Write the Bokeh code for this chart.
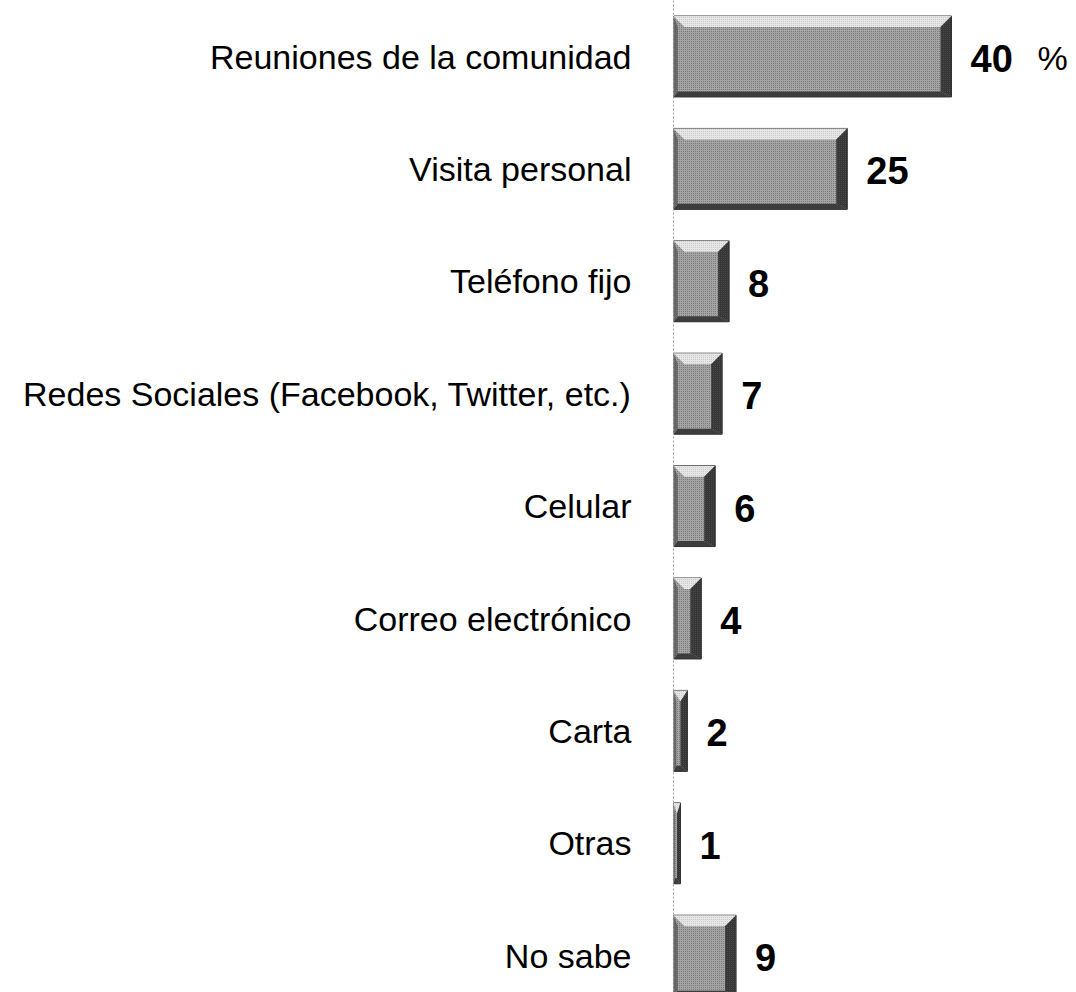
from bokeh.plotting import figure
from bokeh.models import Range1d, FixedTicker, ColumnDataSource
from bokeh.core.properties import value
from bokeh.embed import file_html
from bokeh.resources import INLINE

categories = ["Reuniones de la comunidad", "Visita personal", "Teléfono fijo",
              "Redes Sociales (Facebook, Twitter, etc.)", "Celular",
              "Correo electrónico", "Carta", "Otras", "No sabe"]
values = [40, 25, 8, 7, 6, 4, 2, 1, 9]
value_labels = ["40", "25", "8", "7", "6", "4", "2", "1", "9"]
unit_suffix = "%"

W, H = 1076, 992
LEFT = 673
PX_X = 6.95          # pixels per percent unit
PX_Y = 112.4         # pixels per row
x_end = (W - LEFT) / PX_X
y_top = -56 / PX_Y
y_bot = y_top + H / PX_Y

p = figure(width=W, height=H, output_backend="svg", toolbar_location=None,
           x_range=Range1d(0, x_end), y_range=Range1d(start=y_bot, end=y_top),
           min_border_left=LEFT, min_border_right=0, min_border_top=0, min_border_bottom=0)
p.outline_line_color = None
p.grid.visible = False
p.xaxis.visible = False
p.background_fill_color = "white"
p.border_fill_color = "white"

ys = list(range(len(categories)))
yax = p.yaxis[0]
yax.ticker = FixedTicker(ticks=ys)
yax.major_label_overrides = {i: c for i, c in enumerate(categories)}
yax.major_label_text_font = "Liberation Sans"
yax.major_label_text_font_size = "34px"
yax.major_label_text_color = "black"
yax.major_tick_line_color = None
yax.minor_tick_line_color = None
yax.major_label_standoff = 36
yax.axis_line_color = "#a0a0a0"
yax.axis_line_dash = "2 2"
yax.axis_line_width = 1

h = 0.72
bx_px, by_px = 11.0, 11.0
tops = [y - h / 2 for y in ys]
bots = [y + h / 2 for y in ys]

# base bar
src = ColumnDataSource(dict(y=ys, v=values))
p.hbar(y="y", right="v", left=0, height=h, source=src, fill_color="#a4a4a4",
       line_color="#2e2e2e", line_width=1,
       hatch_pattern=".", hatch_color="#4a4a4a", hatch_scale=2, hatch_alpha=0.6)

# bevel facets
top_xs, top_ys, right_xs, right_ys, bot_xs, bot_ys, left_xs, left_ys = [], [], [], [], [], [], [], []
for v, t, b in zip(values, tops, bots):
    bx = min(bx_px / PX_X, v / 2.0)
    by = by_px / PX_Y
    top_xs.append([0, v, v - bx, bx]); top_ys.append([t, t, t + by, t + by])
    right_xs.append([v, v, v - bx, v - bx]); right_ys.append([t, b, b - by * 0.5, t + by])
    bot_xs.append([0, v, v - bx, bx * 0.4]); bot_ys.append([b, b, b - by * 0.5, b - by * 0.5])
    left_xs.append([0, 0, bx * 0.4, bx * 0.4]); left_ys.append([t, b, b - by * 0.5, t + by])

p.patches(top_xs, top_ys, fill_color="#eeeeee", fill_alpha=0.9, line_color=None,
          hatch_pattern=".", hatch_color="#a0a0a0", hatch_scale=2, hatch_alpha=0.5)
p.patches(right_xs, right_ys, fill_color="#2a2a2a", fill_alpha=0.9, line_color=None,
          hatch_pattern=".", hatch_color="#808080", hatch_scale=2, hatch_alpha=0.4)
p.patches(bot_xs, bot_ys, fill_color="#333333", fill_alpha=0.9, line_color=None)
p.patches(left_xs, left_ys, fill_color="#5a5a5a", fill_alpha=0.8, line_color=None)

# value labels
lab = ColumnDataSource(dict(x=values, y=ys, t=value_labels))
p.text(x="x", y="y", text="t", source=lab, x_offset=19, y_offset=2, text_baseline="middle",
       text_font=value("Liberation Sans"), text_font_style="bold",
       text_font_size="38px", text_color="black")
p.text(x=[values[0]], y=[ys[0]], text=[unit_suffix], x_offset=86, y_offset=1, text_baseline="middle",
       text_font=value("Liberation Sans"), text_font_size="34px", text_color="black")

open("out.html", "w").write(file_html(p, INLINE))
